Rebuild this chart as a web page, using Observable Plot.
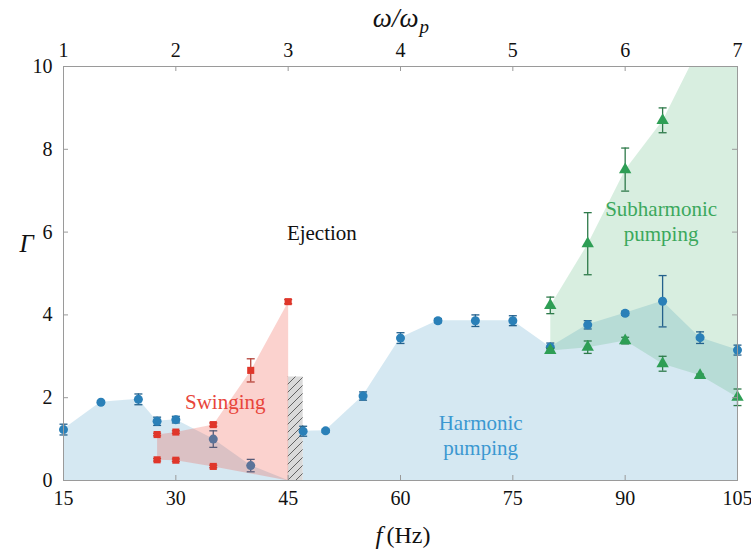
<!DOCTYPE html>
<html>
<head>
<meta charset="utf-8">
<script src="https://cdn.jsdelivr.net/npm/d3@7"></script>
<script src="https://cdn.jsdelivr.net/npm/@observablehq/plot@0.6"></script>
<style>
  html, body { margin: 0; padding: 0; background: #fff; font-family: "Liberation Serif", serif; }
  svg text { font-family: "Liberation Serif", serif !important; }
</style>
</head>
<body>
<div id="chart"></div>
<script>
// ---- Data ----
const xTicks = [15, 30, 45, 60, 75, 90, 105];
const yTicks = [0, 2, 4, 6, 8, 10];

// Harmonic pumping (blue circles)
const blueF   = [15, 20, 25, 27.5, 30, 35, 40, 47, 50, 55, 60, 65, 70, 75, 80, 85, 90, 95, 100, 105];
const blueG   = [1.23, 1.89, 1.96, 1.43, 1.47, 1.0, 0.36, 1.19, 1.2, 2.04, 3.44, 3.86, 3.86, 3.86, 3.22, 3.76, 4.04, 4.33, 3.45, 3.15];
const blueErr = [0.13, 0.03, 0.13, 0.1, 0.08, 0.2, 0.15, 0.12, 0.04, 0.1, 0.13, 0.05, 0.14, 0.12, 0.1, 0.1, 0.05, 0.62, 0.14, 0.12];

// Swinging (red squares): upper and lower thresholds
const redUpF   = [27.5, 30, 35, 40, 45];
const redUpG   = [1.11, 1.17, 1.35, 2.66, 4.32];
const redUpErr = [0.03, 0.03, 0.04, 0.28, 0.05];
const redLoF   = [27.5, 30, 35];
const redLoG   = [0.5, 0.49, 0.34];
const redLoErr = [0.03, 0.03, 0.03];

// Subharmonic pumping (green triangles): upper and lower thresholds
const greenUpF   = [80, 85, 90, 95];
const greenUpG   = [4.23, 5.72, 7.51, 8.70];
const greenUpErr = [0.2, 0.75, 0.52, 0.3];
const greenLoF   = [80, 85, 90, 95, 100, 105];
const greenLoG   = [3.14, 3.22, 3.38, 2.82, 2.54, 2.01];
const greenLoErr = [0.05, 0.15, 0.08, 0.18, 0.03, 0.2];

// Region boundary vertices
const swingEnd   = {f: 45, g: 0};
const ejectEdge  = [{f: 98.6, g: 10}, {f: 105, g: 10}];
const hatchBox   = [{f1: 45, f2: 47, g1: 0, g2: 2.5}];

// Region labels
const regionLabels = [
  {text: "Ejection", f: 49.5, g: 6.0, color: "#111111"},
  {text: "Swinging", f: 36.6, g: 1.93, color: "#e8453b"},
  {text: "Harmonic\npumping", f: 70.7, g: 1.11, color: "#3b98d1"},
  {text: "Subharmonic\npumping", f: 94.8, g: 6.28, color: "#3ba85c"}
];

// ---- Tables built from the arrays ----
const zip = (F, G, E) => F.map((f, i) => ({f, g: G[i], e: E ? E[i] : 0}));
const blue = zip(blueF, blueG, blueErr);
const redUp = zip(redUpF, redUpG, redUpErr);
const redLo = zip(redLoF, redLoG, redLoErr);
const greenUp = zip(greenUpF, greenUpG, greenUpErr);
const greenLo = zip(greenLoF, greenLoG, greenLoErr);
const red = redUp.concat(redLo);
const green = greenUp.concat(greenLo);

const blueSeg1 = blue.filter(d => d.f <= 40).concat([swingEnd]);
const blueSeg2 = blue.filter(d => d.f >= 47);
const redPoly = redUp.concat([swingEnd], redLo.slice().reverse());
const greenPoly = greenUp.concat(ejectEdge, greenLo.slice().reverse());

// ---- Layout ----
const W = 751, H = 552;
const mL = 63, mR = 14, mT = 66, mB = 72;
const innerW = W - mL - mR, innerH = H - mT - mB;

const cap = {
  draw(ctx, size) {
    const r = Math.sqrt(size / Math.PI);
    ctx.moveTo(-r, 0); ctx.lineTo(r, 0);
  }
};

function errorMarks(data, color) {
  return [
    Plot.ruleX(data, {x: "f", y1: d => d.g - d.e, y2: d => d.g + d.e, stroke: color, strokeWidth: 1.3}),
    Plot.dot(data, {x: "f", y: d => d.g + d.e, symbol: cap, r: 4, stroke: color, strokeWidth: 1.3, fill: "none"}),
    Plot.dot(data, {x: "f", y: d => d.g - d.e, symbol: cap, r: 4, stroke: color, strokeWidth: 1.3, fill: "none"})
  ];
}

const serif = "Liberation Serif";

const chart = Plot.plot({
  width: W,
  height: H,
  marginLeft: mL, marginRight: mR, marginTop: mT, marginBottom: mB,
  style: "font-family: 'Liberation Serif', serif; font-size: 20px; background: #fff; color: #111;",
  x: {domain: [15, 105]},
  y: {domain: [0, 10]},
  marks: [
    // regions
    Plot.areaY(blueSeg1, {x: "f", y: "g", fill: "#2b8cbe", fillOpacity: 0.2}),
    Plot.areaY(blueSeg2, {x: "f", y: "g", fill: "#2b8cbe", fillOpacity: 0.2}),
    Plot.line(greenPoly, {x: "f", y: "g", fill: "#4cb070", fillOpacity: 0.22, stroke: "none"}),
    Plot.rect(hatchBox, {x1: "f1", x2: "f2", y1: "g1", y2: "g2", fill: "url(#hatch)"}),
    // harmonic points
    ...errorMarks(blue, "#24618c"),
    Plot.dot(blue, {x: "f", y: "g", r: 4.5, fill: "#2a80b8", stroke: "none"}),
    // swinging region and points
    Plot.line(redPoly, {x: "f", y: "g", fill: "#f04a3a", fillOpacity: 0.25, stroke: "none"}),
    ...errorMarks(red, "#b5443a"),
    Plot.dot(red, {x: "f", y: "g", symbol: "square", r: 4, fill: "#e0362a", stroke: "none"}),
    // subharmonic points
    ...errorMarks(green, "#2e7a4a"),
    Plot.dot(green, {x: "f", y: "g", symbol: "triangle", r: 4.6, fill: "#2e9e55", stroke: "none"}),
    // labels
    Plot.text(regionLabels, {x: "f", y: "g", text: "text", fill: "color", fontSize: 21, lineHeight: 1.2, fontFamily: serif}),
    // frame and inward ticks
    Plot.frame({stroke: "#9a9a9a", strokeWidth: 1}),
    Plot.tickX(xTicks, {x: d => d, insetTop: innerH - 5, stroke: "#9a9a9a"}),
    Plot.tickX(xTicks, {x: d => d, insetBottom: innerH - 5, stroke: "#9a9a9a"}),
    Plot.tickY(yTicks, {y: d => d, insetRight: innerW - 5, stroke: "#9a9a9a"}),
    Plot.tickY(yTicks, {y: d => d, insetLeft: innerW - 5, stroke: "#9a9a9a"}),
    // axes
    Plot.axisX({anchor: "bottom", ticks: xTicks, tickSize: 0, tickPadding: 10, label: null, fontSize: 20, fontFamily: serif}),
    Plot.axisX({anchor: "top", ticks: xTicks, tickSize: 0, tickPadding: 10, tickFormat: d => String(d / 15), label: null, fontSize: 20, fontFamily: serif}),
    Plot.axisY({anchor: "left", ticks: yTicks, tickSize: 0, tickPadding: 11, label: null, fontSize: 20, fontFamily: serif}),
    // axis titles
    Plot.text(["Γ"], {frameAnchor: "left", lineAnchor: "middle", dx: -44, dy: -30, fontSize: 25, fontStyle: "italic", fontFamily: serif}),
    Plot.text(["f"], {frameAnchor: "bottom", lineAnchor: "middle", dx: -18, dy: 55, textAnchor: "end", fontSize: 25, fontStyle: "italic", fontFamily: serif}),
    Plot.text(["(Hz)"], {frameAnchor: "bottom", lineAnchor: "middle", dx: -14, dy: 55, textAnchor: "start", fontSize: 24, fontFamily: serif}),
    Plot.text(["ω/ω"], {frameAnchor: "top", lineAnchor: "middle", dx: 18, dy: -48, textAnchor: "end", fontSize: 27, fontStyle: "italic", fontFamily: serif}),
    Plot.text(["p"], {frameAnchor: "top", lineAnchor: "middle", dx: 19, dy: -40, textAnchor: "start", fontSize: 19, fontStyle: "italic", fontFamily: serif})
  ]
});

const svg = d3.select(chart);
// force the serif family on every text node
svg.attr("font-family", "Liberation Serif");
svg.selectAll("g, text, tspan").attr("font-family", "Liberation Serif").style("font-family", "'Liberation Serif', serif");

// hatch pattern definition
const defs = svg.insert("defs", ":first-child");
const pat = defs.append("pattern")
  .attr("id", "hatch").attr("patternUnits", "userSpaceOnUse")
  .attr("width", 8).attr("height", 8);
pat.append("rect").attr("width", 8).attr("height", 8).attr("fill", "#dadada");
pat.append("path").attr("d", "M-2,2 L2,-2 M0,8 L8,0 M6,10 L10,6")
  .attr("stroke", "#555").attr("stroke-width", 0.9);

document.getElementById("chart").appendChild(chart);
</script>
</body>
</html>
